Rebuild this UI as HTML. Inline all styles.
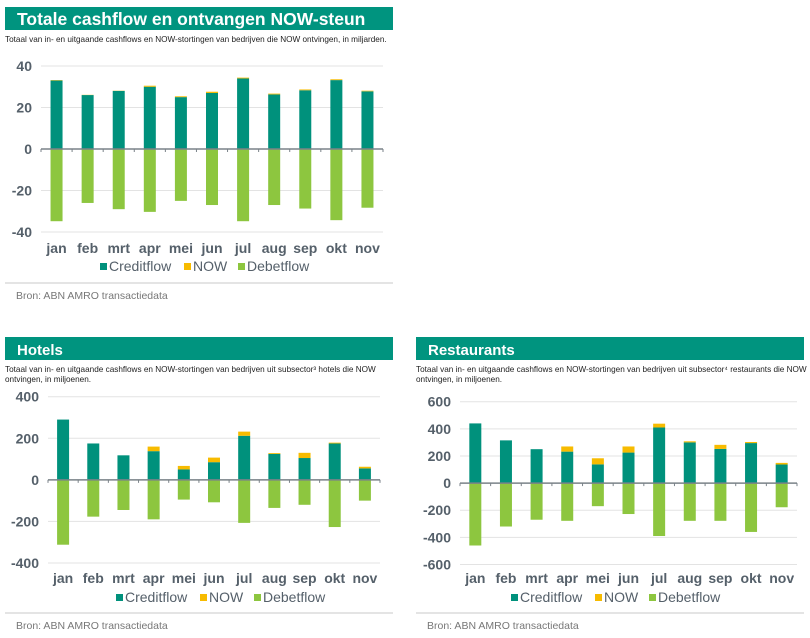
<!DOCTYPE html>
<html><head><meta charset="utf-8">
<style>
html,body{margin:0;padding:0;background:#fff;}
svg{display:block;font-family:"Liberation Sans",Arial,sans-serif;}
</style></head>
<body>
<svg id="root" width="810" height="638" viewBox="0 0 810 638" xmlns="http://www.w3.org/2000/svg"></svg>
<script>
const months = ["jan","feb","mrt","apr","mei","jun","jul","aug","sep","okt","nov"];

const totalCredit = [33,26,28,30,25,27,34,26.3,28.3,33.2,27.8];
const totalNow = [0.2,0.1,0.1,0.5,0.4,0.6,0.4,0.4,0.4,0.4,0.3];
const totalDebet = [-34.8,-26,-29,-30.3,-25,-27,-34.8,-27,-28.7,-34.3,-28.3];
const totalTicks = [40,20,0,-20,-40];

const hotelCredit = [290,175,118,138,50,85,212,125,105,175,55];
const hotelNow = [0,0,0,22,17,22,20,4,25,4,8];
const hotelDebet = [-312,-177,-145,-190,-95,-108,-207,-135,-120,-227,-100];
const hotelTicks = [400,200,0,-200,-400];

const restCredit = [440,315,250,232,138,225,410,300,252,295,137];
const restNow = [0,0,0,38,45,45,28,8,30,8,12];
const restDebet = [-460,-320,-270,-278,-170,-228,-390,-278,-278,-360,-178];
const restTicks = [600,400,200,0,-200,-400,-600];

const C_TEAL="#00917c", C_NOW="#f7bb00", C_DEB="#8dc63f", C_TXT="#55606a";
const NS="http://www.w3.org/2000/svg";
const root=document.getElementById('root');
function mk(tag,attrs,parent,text){
  const e=document.createElementNS(NS,tag);
  for(const k in attrs) e.setAttribute(k,attrs[k]);
  if(text!==undefined) e.textContent=text;
  (parent||root).appendChild(e);
  return e;
}

function panel(cfg){
  const g=mk('g',{});
  
  
  const bar=mk('rect',{x:cfg.px,y:cfg.ty,width:cfg.pw,height:23,fill:"#00947f"},g);
  
  
  const t=mk('text',{x:cfg.px+12,y:cfg.ty+18,fill:"#fff","font-size":cfg.titleSize,"font-weight":"bold"},g,cfg.title);
  
  
  cfg.sub.forEach((s,i)=>{
    const st=mk('text',{x:cfg.px,y:cfg.ty+35+i*10,fill:"#222","font-size":"8.2"},g,s);
    
    
  });
  const vmax=cfg.ticks[0], vmin=cfg.ticks[cfg.ticks.length-1];
  const y=v=>cfg.yTop+(vmax-v)/(vmax-vmin)*(cfg.yBot-cfg.yTop);
  const n=months.length, cw=(cfg.x1-cfg.x0)/n;
  const xc=i=>cfg.x0+cw*(i+0.5);
  cfg.ticks.forEach(tv=>{
    if(tv!==0){
      const gl=mk('line',{x1:cfg.x0,x2:cfg.x1,y1:y(tv),y2:y(tv),stroke:"#e3e3e3","stroke-width":1},g);
      
      
    }
    const tl=mk('text',{x:cfg.labX,y:y(tv)+5,fill:C_TXT,"font-size":"14","font-weight":"bold","text-anchor":"end"},g,String(tv));
    
    
  });
  const bw=12;
  months.forEach((m,i)=>{
    const cx=xc(i);
    const cr=mk('rect',{x:cx-bw/2,y:y(cfg.credit[i]),width:bw,height:y(0)-y(cfg.credit[i]),fill:C_TEAL},g);
    
    
    const top=cfg.credit[i]+cfg.now[i];
    const nw=mk('rect',{x:cx-bw/2,y:y(top),width:bw,height:y(cfg.credit[i])-y(top),fill:C_NOW},g);
    
    
    const db=mk('rect',{x:cx-bw/2,y:y(0),width:bw,height:y(cfg.debet[i])-y(0),fill:C_DEB},g);
    
    
    const cl=mk('text',{x:cx,y:cfg.catY,fill:C_TXT,"font-size":"14","font-weight":"bold","text-anchor":"middle"},g,m);
    
    
  });
  const ax=mk('line',{x1:cfg.x0,x2:cfg.x1,y1:y(0),y2:y(0),stroke:"#7a8288","stroke-width":1.5},g);
  
  
  for(let i=0;i<=n;i++){
    const tk=mk('line',{x1:cfg.x0+cw*i,x2:cfg.x0+cw*i,y1:y(0),y2:y(0)+3,stroke:"#7a8288","stroke-width":1},g);
    
    
  }
  const lg=mk('g',{},g);
  
  
  const items=[["Creditflow",C_TEAL,0],["NOW",C_NOW,84],["Debetflow",C_DEB,138]];
  items.forEach(it=>{
    const lx=cfg.legX+it[2];
    const e=mk('g',{},lg);
    
    
    mk('rect',{x:lx,y:cfg.legY-8,width:7,height:7,fill:it[1]},e);
    mk('text',{x:lx+9,y:cfg.legY,fill:C_TXT,"font-size":"14","font-weight":"normal"},e,it[0]);
  });
  const sep=mk('line',{x1:cfg.px,x2:cfg.px+cfg.pw,y1:cfg.sepY,y2:cfg.sepY,stroke:"#c8c8c8","stroke-width":1},g);
  
  
  const src=mk('text',{x:cfg.px+11,y:cfg.sepY+16,fill:"#777","font-size":"10.5"},g,"Bron: ABN AMRO transactiedata");
  
  
}

panel({name:"total-cashflow-chart",title:"Totale cashflow en ontvangen NOW-steun",titleSize:17.5,
  sub:["Totaal van in- en uitgaande cashflows en NOW-stortingen van bedrijven die NOW ontvingen, in miljarden."],
  px:5,pw:388,ty:7,x0:41,x1:383,yTop:66,yBot:232,labX:32,catY:253,legX:100,legY:271,sepY:283,
  credit:totalCredit,now:totalNow,debet:totalDebet,ticks:totalTicks});

panel({name:"hotels-chart",title:"Hotels",titleSize:15,
  sub:["Totaal van in- en uitgaande cashflows en NOW-stortingen van bedrijven uit subsector³ hotels die NOW","ontvingen, in miljoenen."],
  px:5,pw:388,ty:337,x0:48,x1:380,yTop:396.7,yBot:563,labX:39,catY:583,legX:116,legY:602,sepY:613,
  credit:hotelCredit,now:hotelNow,debet:hotelDebet,ticks:hotelTicks});

panel({name:"restaurants-chart",title:"Restaurants",titleSize:15,
  sub:["Totaal van in- en uitgaande cashflows en NOW-stortingen van bedrijven uit subsector⁴ restaurants die NOW","ontvingen, in miljoenen."],
  px:416,pw:388,ty:337,x0:460,x1:797,yTop:401.7,yBot:564.5,labX:451,catY:583,legX:511,legY:602,sepY:613,
  credit:restCredit,now:restNow,debet:restDebet,ticks:restTicks});
</script>
</body></html>
